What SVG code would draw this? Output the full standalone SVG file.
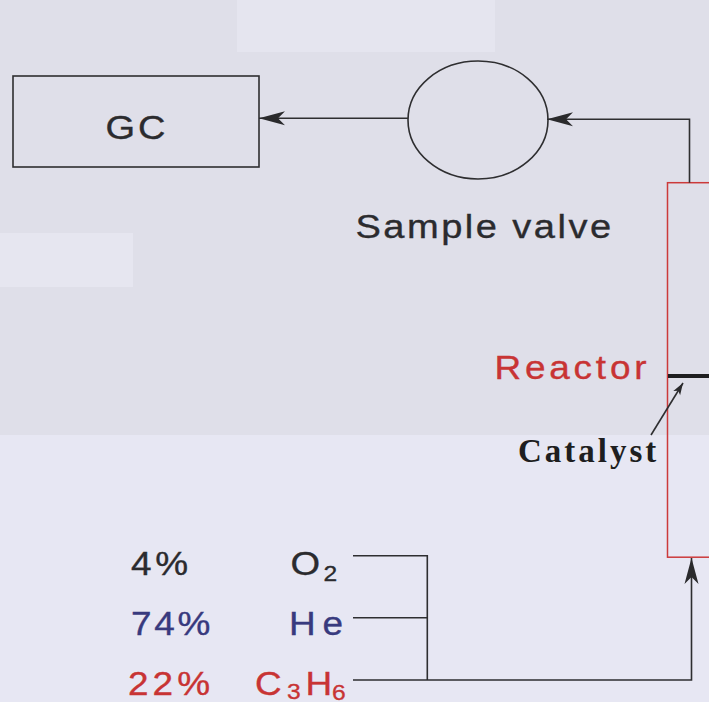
<svg xmlns="http://www.w3.org/2000/svg" width="709" height="702" viewBox="0 0 709 702">
<style>
.t{font-family:"Liberation Sans",Arial,sans-serif;font-size:33px;letter-spacing:3px;stroke-width:0.35px}
.dark{fill:#2b2b2e;stroke:#2b2b2e}
.blue{fill:#383a7e;stroke:#383a7e}
.red{fill:#c83434;stroke:#c83434}
.sub{font-size:22px;letter-spacing:0}
.ln{stroke:#2e2e30;stroke-width:1.6;fill:none}
</style>
<defs>
<marker id="ah" markerUnits="userSpaceOnUse" markerWidth="30" markerHeight="20" viewBox="-28 -10 30 20" refX="0" refY="0" orient="auto">
<path d="M0,0 L-26,-7 L-19,0 L-26,7 Z" fill="#2a2a2c"/>
</marker>
<marker id="ahs" markerUnits="userSpaceOnUse" markerWidth="16" markerHeight="12" viewBox="-14 -6 16 12" refX="0" refY="0" orient="auto">
<path d="M0,0 L-12,-4 L-9,0 L-12,4 Z" fill="#2a2a2c"/>
</marker>
</defs>
<rect x="0" y="0" width="709" height="702" fill="#e7e7f3"/>
<rect x="0" y="0" width="709" height="435" fill="#dfdfe9"/>
<rect x="237" y="0" width="258" height="52" fill="#e5e5ef"/>
<rect x="0" y="233" width="133" height="54" fill="#e6e6f0"/>
<g id="gc">
<rect x="13" y="76" width="246" height="91" fill="none" stroke="#2e2e30" stroke-width="1.6"/>
<text class="t dark" transform="translate(105.5,139) scale(1.12,1)" style="font-size:34px;letter-spacing:2.6px">GC</text>
</g>
<g id="sample-valve">
<ellipse cx="478" cy="120" rx="70" ry="59" fill="none" stroke="#2e2e30" stroke-width="1.6"/>
<text class="t dark" transform="translate(355.5,237.5) scale(1.12,1)" style="font-size:34px;letter-spacing:2.2px">Sample valve</text>
</g>
<g id="reactor">
<rect x="667.5" y="182.7" width="80" height="374.5" fill="none" stroke="#cc3a3a" stroke-width="1.5"/>
<line x1="668" y1="376" x2="709" y2="376" stroke="#1e1e20" stroke-width="4"/>
<text class="t red" transform="translate(494.4,379) scale(1.12,1)" style="letter-spacing:3.4px">Reactor</text>
</g>
<g id="catalyst">
<text x="518" y="462" fill="#1e1e20" style="font-family:'Liberation Serif','Times New Roman',serif;font-weight:bold;font-size:33px;letter-spacing:3px">Catalyst</text>
<line x1="651" y1="435" x2="683" y2="383" class="ln" stroke-width="1.3" marker-end="url(#ahs)"/>
</g>
<g id="o2">
<text class="t dark" transform="translate(131,575) scale(1.12,1)" style="letter-spacing:3.4px">4%</text>
<text class="t dark" transform="translate(290.5,575) scale(1.12,1)" style="font-size:34px">O<tspan class="sub" x="29.5" y="6">2</tspan></text>
</g>
<g id="he">
<text class="t blue" transform="translate(131,635) scale(1.12,1)" style="letter-spacing:2.4px">74%</text>
<text class="t blue" transform="translate(289,635) scale(1.12,1)" style="letter-spacing:6px">He</text>
</g>
<g id="c3h6">
<text class="t red" transform="translate(128,695) scale(1.12,1)" style="letter-spacing:3.6px">22%</text>
<text class="t red" transform="translate(255,695) scale(1.12,1)">C<tspan class="sub" x="28.6" y="4">3</tspan><tspan x="45.1" y="0">H</tspan><tspan class="sub" x="68.7" y="5">6</tspan></text>
</g>
<g id="connectors">
<line x1="408" y1="118.3" x2="259" y2="118.3" class="ln" marker-end="url(#ah)"/>
<polyline points="689.5,182.7 689.5,119.3 547,119.3" class="ln" marker-end="url(#ah)"/>
<polyline points="353,555.7 427.3,555.7 427.3,680" class="ln"/>
<line x1="353" y1="617.7" x2="427.3" y2="617.7" class="ln"/>
<polyline points="353,680 691.5,680 691.5,558" class="ln" marker-end="url(#ah)"/>
</g>
</svg>
